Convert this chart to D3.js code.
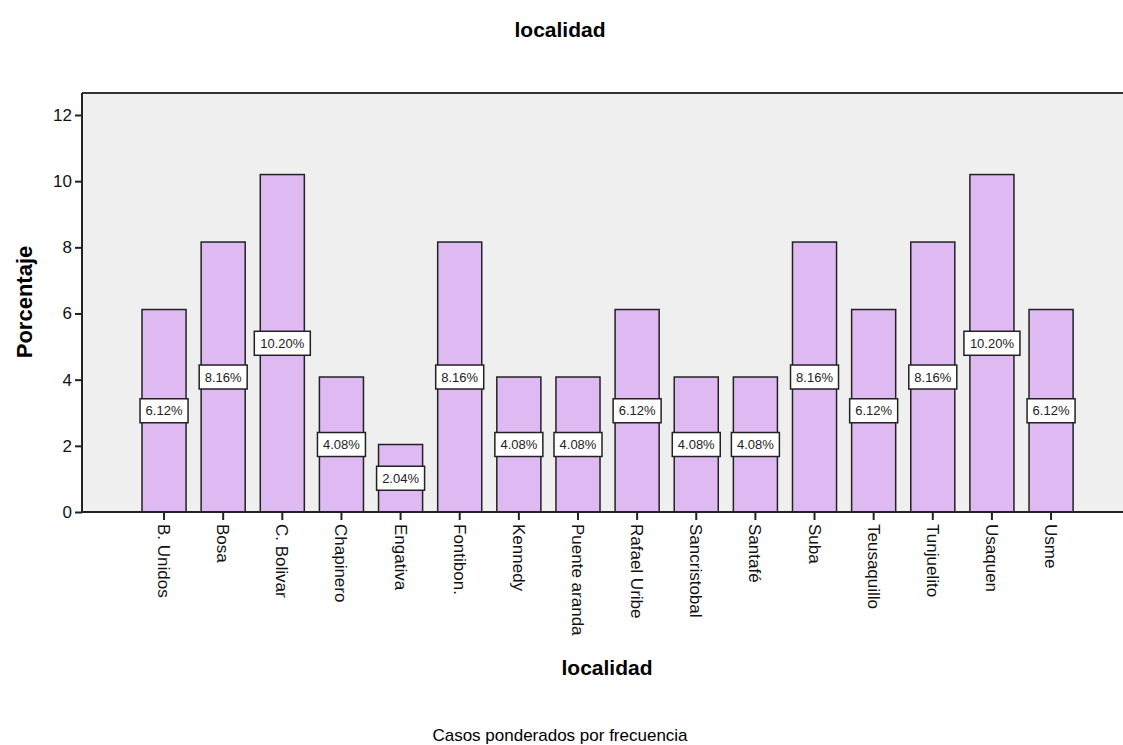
<!DOCTYPE html>
<html>
<head>
<meta charset="utf-8">
<script src="https://d3js.org/d3.v7.min.js"></script>
<style>
  body { margin: 0; background: #fff; }
  text { font-family: "Liberation Sans", Arial, sans-serif; }
</style>
</head>
<body>
<div id="chart"></div>
<script>
// data
var categories = ["B. Unidos", "Bosa", "C. Bolivar", "Chapinero", "Engativa", "Fontibon.", "Kennedy",
  "Puente aranda", "Rafael Uribe", "Sancristobal", "Santafé", "Suba", "Teusaquillo", "Tunjuelito",
  "Usaquen", "Usme"];
var percents = [6.12, 8.16, 10.20, 4.08, 2.04, 8.16, 4.08, 4.08, 6.12, 4.08, 4.08, 8.16, 6.12, 8.16, 10.20, 6.12];
var yTicks = [0, 2, 4, 6, 8, 10, 12];

var W = 1123, H = 745;
var plot = { left: 82, top: 93, right: 1123, bottom: 512 };

var svg = d3.select("#chart").append("svg")
  .attr("width", W).attr("height", H);

// plot background
svg.append("rect")
  .attr("x", plot.left).attr("y", plot.top)
  .attr("width", plot.right - plot.left).attr("height", plot.bottom - plot.top)
  .style("fill", "#efefef");
svg.append("line")
  .attr("x1", plot.left).attr("x2", plot.right)
  .attr("y1", plot.top).attr("y2", plot.top)
  .style("stroke", "#333").style("stroke-width", 2);

var x = d3.scaleBand()
  .domain(categories)
  .range([134.5, 1080.6])
  .paddingInner(0.255)
  .paddingOuter(0.127);

var y = d3.scaleLinear()
  .domain([0, 12])
  .range([plot.bottom, 115]);

// bars
svg.selectAll("rect.bar")
  .data(percents)
  .enter()
  .append("rect")
  .attr("class", "bar")
  .attr("x", function(d, i) { return x(categories[i]); })
  .attr("y", function(d) { return y(d); })
  .attr("width", x.bandwidth())
  .attr("height", function(d) { return y(0) - y(d); })
  .style("fill", "#dfb9f2")
  .style("stroke", "#222")
  .style("stroke-width", 1.5);

// value labels
var lab = svg.selectAll("g.lab")
  .data(percents)
  .enter()
  .append("g")
  .attr("class", "lab")
  .attr("transform", function(d, i) {
    return "translate(" + (x(categories[i]) + x.bandwidth() / 2) + "," + y(d / 2) + ")";
  });
lab.append("rect")
  .attr("x", function(d) { return d >= 10 ? -28 : -24; })
  .attr("y", -12)
  .attr("width", function(d) { return d >= 10 ? 56 : 48; })
  .attr("height", 24)
  .style("fill", "#fff")
  .style("stroke", "#222")
  .style("stroke-width", 1.5);
lab.append("text")
  .attr("text-anchor", "middle")
  .attr("dy", "0.36em")
  .style("font-size", "13px")
  .style("fill", "#222")
  .text(function(d) { return d.toFixed(2) + "%"; });

// y axis
var yAxis = svg.append("g")
  .attr("transform", "translate(" + plot.left + ",0)")
  .call(d3.axisLeft(y).tickValues(yTicks).tickSize(7).tickPadding(3).tickFormat(d3.format("d")));
yAxis.select(".domain").attr("d", "M0," + plot.top + "V" + plot.bottom).style("stroke", "#222").style("stroke-width", 2);
yAxis.selectAll(".tick line").style("stroke", "#222").style("stroke-width", 2);
yAxis.selectAll(".tick text").style("font-size", "17px").style("fill", "#111");

// x axis
var xAxis = svg.append("g")
  .attr("transform", "translate(0," + plot.bottom + ")")
  .call(d3.axisBottom(x).tickSize(8).tickSizeOuter(0));
xAxis.select(".domain").attr("d", "M" + plot.left + ",0H" + plot.right).style("stroke", "#222").style("stroke-width", 2);
xAxis.selectAll(".tick line").style("stroke", "#222").style("stroke-width", 2);
xAxis.selectAll(".tick text")
  .attr("transform", "rotate(90)")
  .attr("x", 12).attr("y", 0).attr("dy", "0.35em")
  .style("text-anchor", "start")
  .style("font-size", "17px")
  .style("fill", "#111");

// titles
svg.append("text")
  .attr("x", 560).attr("y", 37)
  .attr("text-anchor", "middle")
  .style("font-size", "21px").style("font-weight", "bold")
  .text("localidad");
svg.append("text")
  .attr("x", 607).attr("y", 675)
  .attr("text-anchor", "middle")
  .style("font-size", "21px").style("font-weight", "bold")
  .text("localidad");
svg.append("text")
  .attr("transform", "translate(32,302) rotate(-90)")
  .attr("text-anchor", "middle")
  .style("font-size", "22px").style("font-weight", "bold")
  .text("Porcentaje");
svg.append("text")
  .attr("x", 560).attr("y", 741)
  .attr("text-anchor", "middle")
  .style("font-size", "17px")
  .text("Casos ponderados por frecuencia");
</script>
</body>
</html>
